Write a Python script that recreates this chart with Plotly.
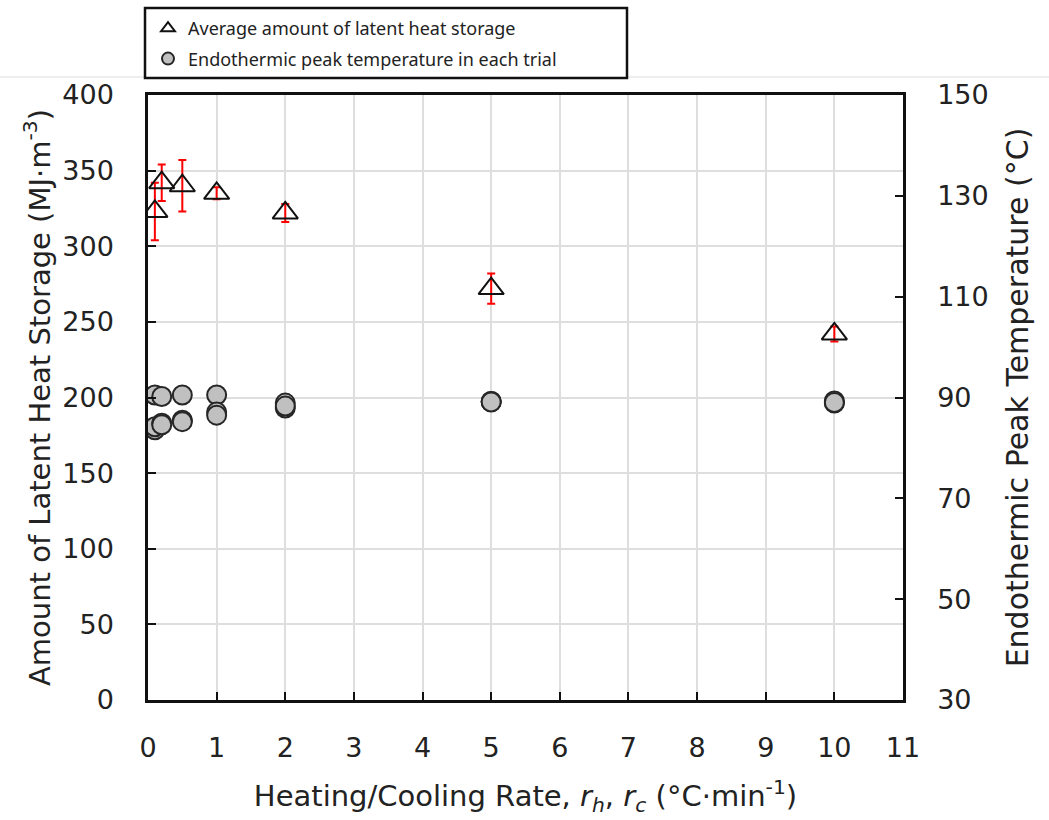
import plotly.graph_objects as go

# ---- data ----
rates = [0.1, 0.2, 0.5, 1, 2, 5, 10]
avg_heat = [323, 342, 340, 335, 322, 272, 242]
heat_err = [19, 12, 17, 4, 6, 10, 5]

trial_rate = [0.1, 0.1, 0.1, 0.2, 0.2, 0.2, 0.5, 0.5, 0.5, 1, 1, 1,
              2, 2, 2, 5, 5, 5, 10, 10, 10]
peak_temp = [90.5, 83.6, 84.2, 90.2, 84.9, 84.6, 90.5, 85.5, 85.2, 90.5, 87.1, 86.5,
             88.9, 87.9, 88.3, 89.2, 89.2, 89.1, 88.9, 89.3, 89.0]

x_ticks = list(range(0, 12))
y_ticks = list(range(0, 401, 50))
y2_ticks = list(range(30, 151, 20))

FONT = "DejaVu Sans"
TXT = "#222222"
W, H = 1049, 820
ML, MR, MT, MB = 148, 146, 95, 120
PW, PH = W - ML - MR, H - MT - MB

fig = go.Figure()

fig.add_trace(go.Scatter(
    x=trial_rate, y=peak_temp, yaxis="y2", mode="markers",
    name="Endothermic peak temperature in each trial", legendgroup="b", legendrank=2,
    marker=dict(symbol="circle", size=19, color="#c0c0c0",
                line=dict(color="#262626", width=2)),
))
fig.add_trace(go.Scatter(
    x=rates, y=avg_heat, mode="markers",
    name="Average amount of latent heat storage", legendgroup="a", legendrank=1,
    marker=dict(symbol="triangle-up", size=22, color="rgba(0,0,0,0)",
                line=dict(color="#111111", width=2)),
    error_y=dict(type="data", array=heat_err, color="#ff0000", thickness=2, width=4),
))

axis_common = dict(
    showline=True, linecolor="#111111", linewidth=2.5,
    ticks="inside", ticklen=8, tickwidth=2, tickcolor="#111111",
    tickfont=dict(family=FONT, size=27, color=TXT),
    zeroline=False,
)

fig.update_layout(
    width=W, height=H,
    margin=dict(l=ML, r=MR, t=MT, b=MB, autoexpand=False),
    paper_bgcolor="white", plot_bgcolor="white",
    font=dict(family=FONT, color=TXT),
    showlegend=True,
    legend=dict(
        x=0.0, y=(H - MB - 10) / PH, xanchor="left", yanchor="top",
        bgcolor="rgba(0,0,0,0)", borderwidth=0,
        font=dict(family="Noto Sans", size=18, color=TXT),
        traceorder="grouped", tracegroupgap=4, itemsizing="constant",
    ),
    xaxis=dict(
        range=[0, 11], tickvals=x_ticks, mirror=True,
        showgrid=True, gridcolor="#dedede", gridwidth=1.5,
        ticklabelstandoff=22,
        title=dict(text="Heating/Cooling Rate, <i>r<sub>h</sub></i>, <i>r<sub>c</sub></i> (°C·min<sup>-1</sup>)",
                   font=dict(family=FONT, size=29, color=TXT), standoff=24),
        **axis_common,
    ),
    yaxis=dict(
        range=[0, 400], tickvals=y_ticks,
        showgrid=True, gridcolor="#dedede", gridwidth=1.5,
        ticklabelstandoff=26,
        title=dict(text="Amount of Latent Heat Storage (MJ·m<sup>-3</sup>)",
                   font=dict(family=FONT, size=29, color=TXT), standoff=4),
        **axis_common,
    ),
    yaxis2=dict(
        range=[30, 150], tickvals=y2_ticks, overlaying="y", side="right",
        showgrid=False, ticklabelstandoff=26,
        title=dict(text="Endothermic Peak Temperature (°C)",
                   font=dict(family=FONT, size=30, color=TXT), standoff=20),
        **axis_common,
    ),
)

# light rule line and legend box
fig.add_shape(type="line", xref="paper", yref="paper",
              x0=-ML / PW, x1=(W - ML) / PW, y0=(H - MB - 77) / PH, y1=(H - MB - 77) / PH,
              line=dict(color="#e8e8e8", width=1.5), layer="below")
fig.add_shape(type="rect", xref="paper", yref="paper",
              x0=-3 / PW, x1=(627 - ML) / PW,
              y0=(H - MB - 78) / PH, y1=(H - MB - 8) / PH,
              line=dict(color="#111111", width=2.5), fillcolor="white", layer="below")

fig.write_html("out.html")
